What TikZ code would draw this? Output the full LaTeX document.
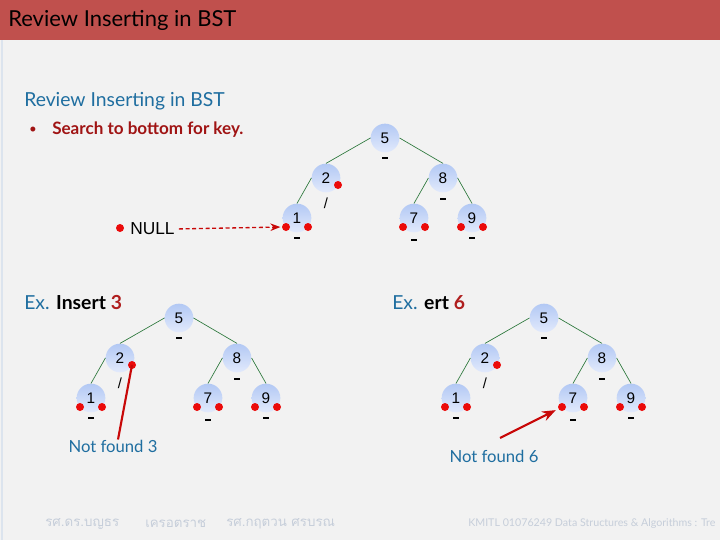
\documentclass[tikz,border=0pt]{standalone}
\usepackage{fontspec}
\setmainfont{Lato}
\newfontfamily\numfont{Liberation Sans}
\newfontfamily\thaifont[Script=Thai]{Loma}
\usetikzlibrary{arrows.meta, calc}

\definecolor{headred}{RGB}{192,80,77}
\definecolor{slidebg}{RGB}{242,242,242}
\definecolor{titleblue}{RGB}{31,110,160}
\definecolor{bulletred}{RGB}{160,20,20}
\definecolor{keyred}{RGB}{175,30,30}
\definecolor{dotred}{RGB}{235,10,10}
\definecolor{edgegreen}{RGB}{45,120,60}
\definecolor{footgray}{RGB}{198,206,218}
\definecolor{nodeblue}{RGB}{178,200,244}
\definecolor{nodelight}{RGB}{226,234,252}
\definecolor{sideline}{RGB}{220,228,238}

% one BST (5, 2, 8, 1, 7, 9) with its nil markers, root at the origin of the scope
\newcommand{\bsttree}[1]{%
    \node[keynode] (#1n5) at (0,0) {5};
    \node[keynode] (#1n2) at (-59,40) {2};
    \node[keynode] (#1n8) at (58,40) {8};
    \node[keynode] (#1n1) at (-88,80) {1};
    \node[keynode] (#1n7) at (29,80) {7};
    \node[keynode] (#1n9) at (87,80) {9};
    \draw[treeedge] (#1n5.west) -- (#1n2.north);
    \draw[treeedge] (#1n5.east) -- (#1n8.north);
    \draw[treeedge] (#1n2.west) -- (#1n1.north);
    \draw[treeedge] (#1n8.west) -- (#1n7.north);
    \draw[treeedge] (#1n8.east) -- (#1n9.north);
    \node[nilbar] (#1m5) at (0,20) {};
    \node[nilbar] (#1m8) at (58,61) {};
    \node[slashmark] (#1s2) at (-59,65) {/};
    \node[reddot] (#1d2) at (-47,47) {};
    \foreach \k/\x/\b in {1/-88/100, 7/29/102, 9/87/100}{
        \node[reddot] (#1l\k) at (\x-11,89) {};
        \node[reddot] (#1r\k) at (\x+11,89) {};
        \node[nilbar] (#1m\k) at (\x,\b) {};
    }
}

\begin{document}
\begin{tikzpicture}[
        x=0.75pt, y=-0.75pt,
        keynode/.style={circle, minimum size=21.5pt, inner sep=0pt,
            top color=nodeblue, bottom color=nodelight,
            font=\numfont\fontsize{11.5}{12}\selectfont},
        treeedge/.style={edgegreen, line width=0.5pt},
        nilbar/.style={rectangle, fill=black, minimum width=4.5pt, minimum height=2.2pt, inner sep=0pt},
        slashmark/.style={inner sep=0pt, font=\numfont\fontsize{11}{12}\selectfont},
        reddot/.style={circle, fill=dotred, minimum size=6pt, inner sep=0pt},
        pointer/.style={dotred!85!black, line width=1.6pt},
        >=Stealth
    ]

% ---------- slide background ----------
    \fill[slidebg] (0,0) rectangle (720,540);
    \clip (0,0) rectangle (720,540);
    \fill[headred] (0,0) rectangle (720,40);
    \draw[sideline, line width=1.2pt] (2,40) -- (2,540);

    \node[anchor=west, inner sep=0pt, font=\fontsize{16.5}{19}\selectfont] (head) at (8,20) {Review Inserting in BST};
    \node[anchor=west, inner sep=0pt, text=titleblue, font=\fontsize{14.5}{17}\selectfont] (sub) at (24,101) {Review Inserting in BST};
    \node[inner sep=0pt, text=bulletred, font=\fontsize{10}{12}\selectfont] (bul) at (33,130) {\textbullet};
    \node[anchor=west, inner sep=0pt, text=bulletred, font=\bfseries\fontsize{12.8}{15}\selectfont] (search) at (52,130) {Search to bottom for key.};

% ---------- top tree with NULL ----------
    \begin{scope}[shift={(385,138)}]
        \bsttree{t}
    \end{scope}
    \node[reddot] (nulldot) at (120,228) {};
    \node[anchor=west, inner sep=0pt, font=\numfont\fontsize{13}{15}\selectfont] (nulltxt) at (130,229) {NULL};
    \draw[->, dotred!85!black, densely dashed, line width=1pt, shorten <=3pt, shorten >=1pt] (nulltxt.east) -- (tl1.west);

% ---------- Ex. insert 3 ----------
    \node[anchor=west, inner sep=0pt, font=\fontsize{14.5}{17}\selectfont] (ex3) at (24,303)
        {\textcolor{titleblue}{Ex.} \textbf{Insert} \textcolor{keyred}{\textbf{3}}};
    \begin{scope}[shift={(179,318)}]
        \bsttree{a}
    \end{scope}
    \node[text=titleblue, inner sep=0pt, font=\fontsize{12.5}{15}\selectfont] (nf3) at (113,446) {Not found 3};
    \draw[pointer] ($(nf3.north)+(5,0)$) -- (ad2.center);

% ---------- Ex. insert 6 ----------
    \node[anchor=west, inner sep=0pt, font=\fontsize{14.5}{17}\selectfont] (ex6) at (392,303)
        {\textcolor{titleblue}{Ex.} \textbf{ert} \textcolor{keyred}{\textbf{6}}};
    \begin{scope}[shift={(544,318)}]
        \bsttree{b}
    \end{scope}
    \node[text=titleblue, inner sep=0pt, font=\fontsize{12.5}{15}\selectfont] (nf6) at (494,456) {Not found 6};
    \coordinate (nf6start) at (500,438);
    \draw[pointer, ->, shorten >=2pt] (nf6start) -- (bl7);

% ---------- footer ----------
    \node[anchor=west, inner sep=0pt, text=footgray, font=\thaifont\fontsize{10}{12}\selectfont] (auth1) at (45,524) {รศ.ดร.บญธร};
    \node[anchor=west, inner sep=0pt, text=footgray, font=\thaifont\fontsize{10}{12}\selectfont] (auth2) at (145,524) {เครอตราช};
    \node[anchor=west, inner sep=0pt, text=footgray, font=\thaifont\fontsize{10}{12}\selectfont] (auth3) at (226,524) {รศ.กฤตวน ศรบรณ};
    \node[anchor=west, inner sep=0pt, text=footgray, font=\fontsize{8}{10}\selectfont] (course) at (468,524) {KMITL 01076249 Data Structures \& Algorithms : Tre};

\end{tikzpicture}
\end{document}
